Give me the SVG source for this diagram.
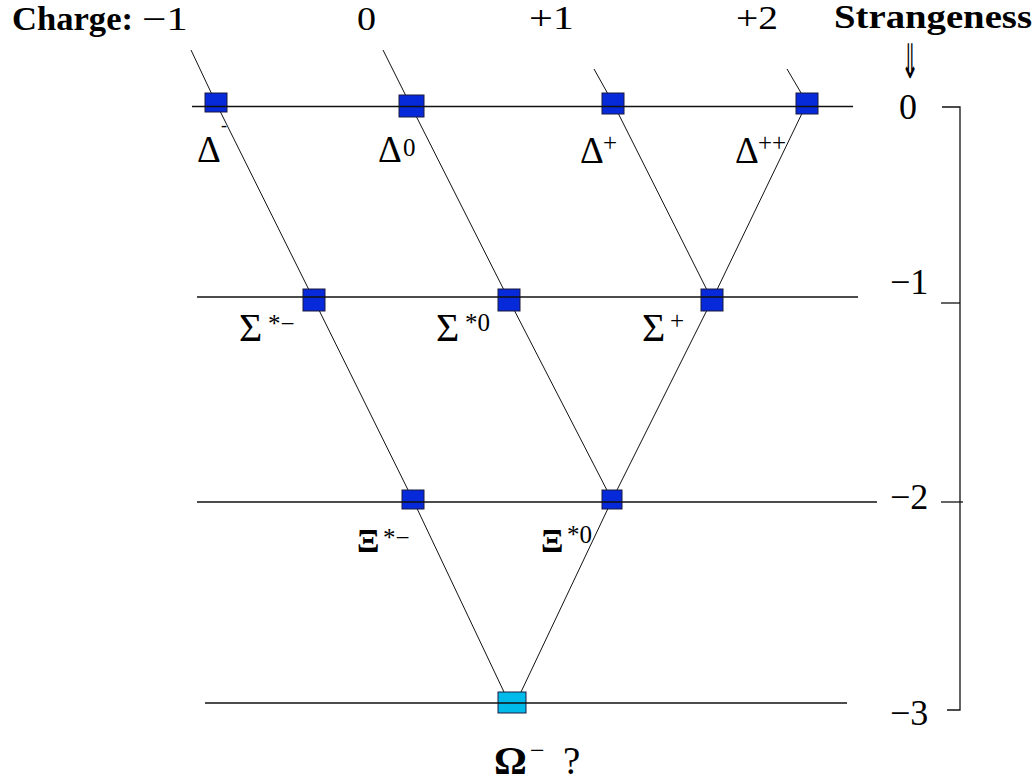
<svg xmlns="http://www.w3.org/2000/svg" width="1036" height="782" viewBox="0 0 1036 782" font-family="'Liberation Serif', 'Times New Roman', Times, serif">
  <style>
    text { font-family: "Liberation Serif", "Times New Roman", Times, serif; fill: #000; }
    .hd { font-size: 33px; }
    .b { font-weight: bold; }
    .gl { font-size: 37px; }
    .sup { font-size: 25px; }
    .sup-s { font-size: 18px; }
    .ax { font-size: 36px; }
    .node { fill: #0629d9; stroke: #1a1a40; stroke-width: 1; }
    .omega { fill: #00bbea; stroke: #1a1a40; stroke-width: 1; }
    .conn line { stroke: #111; stroke-width: 1; }
    .grid line { stroke: #111; stroke-width: 1.3; }
    .axis line, .axis polyline { stroke: #111; stroke-width: 1.3; fill: none; }
  </style>

  <!-- headings -->
  <g id="headings">
    <text class="hd b" x="12" y="30" textLength="121" lengthAdjust="spacingAndGlyphs">Charge:</text>
    <text class="hd" x="142" y="30" textLength="46" lengthAdjust="spacingAndGlyphs">−1</text>
    <text class="hd" x="357" y="30" textLength="19" lengthAdjust="spacingAndGlyphs">0</text>
    <text class="hd" x="529" y="29" textLength="45" lengthAdjust="spacingAndGlyphs">+1</text>
    <text class="hd" x="736" y="29" textLength="42" lengthAdjust="spacingAndGlyphs">+2</text>
    <text class="hd b" x="834" y="28" textLength="198" lengthAdjust="spacingAndGlyphs">Strangeness</text>
    <text x="910" y="78" text-anchor="middle" style="font-family:'DejaVu Sans','DejaVu Serif',sans-serif;font-size:34px" transform="translate(910 78) scale(0.65 1.4) translate(-910 -78)">⇓</text>
  </g>

  <!-- connectors (diagonals) -->
  <g id="connectors" class="conn">
    <line x1="191" y1="50" x2="216" y2="103"/>
    <line x1="216" y1="103" x2="314" y2="300"/>
    <line x1="314" y1="300" x2="413" y2="500"/>
    <line x1="413" y1="500" x2="504" y2="692"/>
    <line x1="383" y1="50" x2="411" y2="106"/>
    <line x1="411" y1="106" x2="509" y2="300"/>
    <line x1="509" y1="300" x2="612" y2="500"/>
    <line x1="594" y1="69" x2="613" y2="103"/>
    <line x1="613" y1="103" x2="712" y2="300"/>
    <line x1="787" y1="69" x2="807" y2="103"/>
    <line x1="807" y1="103" x2="712" y2="300"/>
    <line x1="712" y1="300" x2="612" y2="500"/>
    <line x1="612" y1="500" x2="521" y2="692"/>
  </g>

  <!-- nodes -->
  <g id="delta-minus">
    <rect class="node" x="205" y="93" width="22" height="19"/>
    <text class="gl" x="197" y="162">Δ</text>
    <text class="sup-s" x="221" y="131">-</text>
  </g>
  <g id="delta-zero">
    <rect class="node" x="399" y="95" width="25" height="22"/>
    <text class="gl" x="378" y="162">Δ</text>
    <text class="sup" x="403" y="156">0</text>
  </g>
  <g id="delta-plus">
    <rect class="node" x="602" y="93" width="22" height="21"/>
    <text class="gl" x="580" y="163">Δ</text>
    <text class="sup" x="603" y="151">+</text>
  </g>
  <g id="delta-plusplus">
    <rect class="node" x="796" y="93" width="22" height="21"/>
    <text class="gl" x="735" y="163">Δ</text>
    <text class="sup" x="758" y="151">++</text>
  </g>
  <g id="sigma-minus">
    <rect class="node" x="303" y="289" width="22" height="22"/>
    <text class="gl" x="239" y="341" style="font-size:40px">Σ</text>
    <text class="sup" x="268" y="332">*−</text>
  </g>
  <g id="sigma-zero">
    <rect class="node" x="498" y="289" width="22" height="22"/>
    <text class="gl" x="436" y="341" style="font-size:40px">Σ</text>
    <text class="sup" x="465" y="331">*0</text>
  </g>
  <g id="sigma-plus">
    <rect class="node" x="701" y="289" width="22" height="22"/>
    <text class="gl" x="642" y="341" style="font-size:40px">Σ</text>
    <text class="sup" x="670" y="329">+</text>
  </g>
  <g id="xi-minus">
    <rect class="node" x="402" y="490" width="22" height="19"/>
    <text class="gl b" x="357" y="552" style="font-size:33px">Ξ</text>
    <text class="sup" x="383" y="546">*−</text>
  </g>
  <g id="xi-zero">
    <rect class="node" x="602" y="490" width="20" height="19"/>
    <text class="gl b" x="541" y="552" style="font-size:33px">Ξ</text>
    <text class="sup" x="567" y="543">*0</text>
  </g>
  <g id="omega-minus">
    <rect class="omega" x="498" y="692" width="28" height="21"/>
    <text class="b" x="494" y="774" style="font-size:41px">Ω</text>
    <text x="530" y="759" style="font-size:26px">−</text>
    <text x="563" y="774" style="font-size:39px">?</text>
  </g>

  <!-- strangeness rows (drawn over nodes) -->
  <g id="rows" class="grid">
    <line x1="192" y1="106.5" x2="853" y2="106.5"/>
    <line x1="197" y1="297" x2="858" y2="297"/>
    <line x1="197" y1="502" x2="877" y2="502"/>
    <line x1="205" y1="703" x2="847" y2="703"/>
  </g>

  <!-- strangeness axis -->
  <g id="axis" class="axis">
    <polyline points="942,107 960,107 960,710 947,710"/>
    <line x1="941" y1="303" x2="960" y2="303"/>
    <line x1="941" y1="502" x2="963" y2="502"/>
    <text class="ax" x="899" y="119" style="stroke:none">0</text>
    <text class="ax" x="890" y="294" style="stroke:none">−1</text>
    <text class="ax" x="890" y="509" style="stroke:none">−2</text>
    <text class="ax" x="890" y="725" style="stroke:none">−3</text>
  </g>
</svg>
